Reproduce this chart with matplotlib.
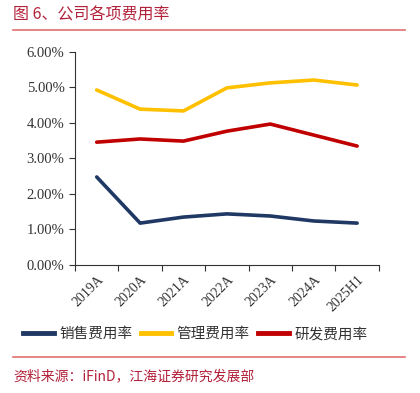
import matplotlib.pyplot as plt
from matplotlib.lines import Line2D
from matplotlib.ticker import FuncFormatter

plt.rcParams['font.family'] = ['Noto Sans CJK SC', 'DejaVu Sans']

periods = ['2019A', '2020A', '2021A', '2022A', '2023A', '2024A', '2025H1']
sales_rate = [2.48, 1.18, 1.35, 1.44, 1.38, 1.24, 1.18]
admin_rate = [4.93, 4.39, 4.34, 4.99, 5.13, 5.21, 5.07]
rd_rate = [3.46, 3.55, 3.49, 3.77, 3.97, 3.66, 3.35]
series_names = ['销售费用率', '管理费用率', '研发费用率']

colors = ['#1F3864', '#FFC000', '#C00000']

fig = plt.figure(figsize=(4.2, 3.93), dpi=100)
ax = fig.add_axes([0.1786, 0.3257, 0.7234, 0.542])

x = list(range(len(periods)))
for vals, c in zip([sales_rate, admin_rate, rd_rate], colors):
    ax.plot(x, vals, color=c, linewidth=2.6, solid_capstyle='round')

ax.set_ylim(0, 6)
ax.set_yticks([0, 1, 2, 3, 4, 5, 6])
ax.yaxis.set_major_formatter(FuncFormatter(lambda v, p: f'{v:.2f}%'))
ax.set_xlim(-0.5, len(periods) - 0.5)
ax.set_xticks([i - 0.5 for i in range(len(periods) + 1)])
ax.set_xticklabels([])
ax.set_xticks(x, minor=True)
ax.set_xticklabels(periods, minor=True, rotation=45, ha='right',
                   rotation_mode='anchor', family='Liberation Serif',
                   fontsize=10, color='#333333')
ax.tick_params(axis='x', which='minor', length=0, pad=6)
ax.tick_params(axis='x', which='major', length=4, color='#333333')
ax.tick_params(axis='y', length=4, color='#333333', labelsize=10.5,
               labelcolor='#333333')
for lab in ax.get_yticklabels():
    lab.set_family('Liberation Serif')

ax.spines['top'].set_visible(False)
ax.spines['right'].set_visible(False)
ax.spines['left'].set_color('#333333')
ax.spines['bottom'].set_color('#333333')

handles = [Line2D([], [], color=c, linewidth=3.5) for c in colors]
fig.legend(handles, series_names, loc='center', bbox_to_anchor=(0.465, 0.15),
           ncol=3, frameon=False, fontsize=10.5, handlelength=2.1,
           columnspacing=0.6, handletextpad=0.35, labelcolor='#333333')

title_color = '#B2213A'
fig.text(0.031, 0.962, '图 6、公司各项费用率', color=title_color, fontsize=11.5,
         va='center', ha='left')
fig.add_artist(Line2D([0.031, 0.965], [0.924, 0.924], color='#E07070',
                      linewidth=1.2, transform=fig.transFigure))
fig.add_artist(Line2D([0.031, 0.965], [0.092, 0.092], color='#E07070',
                      linewidth=1.2, transform=fig.transFigure))
fig.text(0.031, 0.043, '资料来源：iFinD，江海证券研究发展部', color=title_color,
         fontsize=10, va='center', ha='left')

fig.savefig('out.png', dpi=100)
